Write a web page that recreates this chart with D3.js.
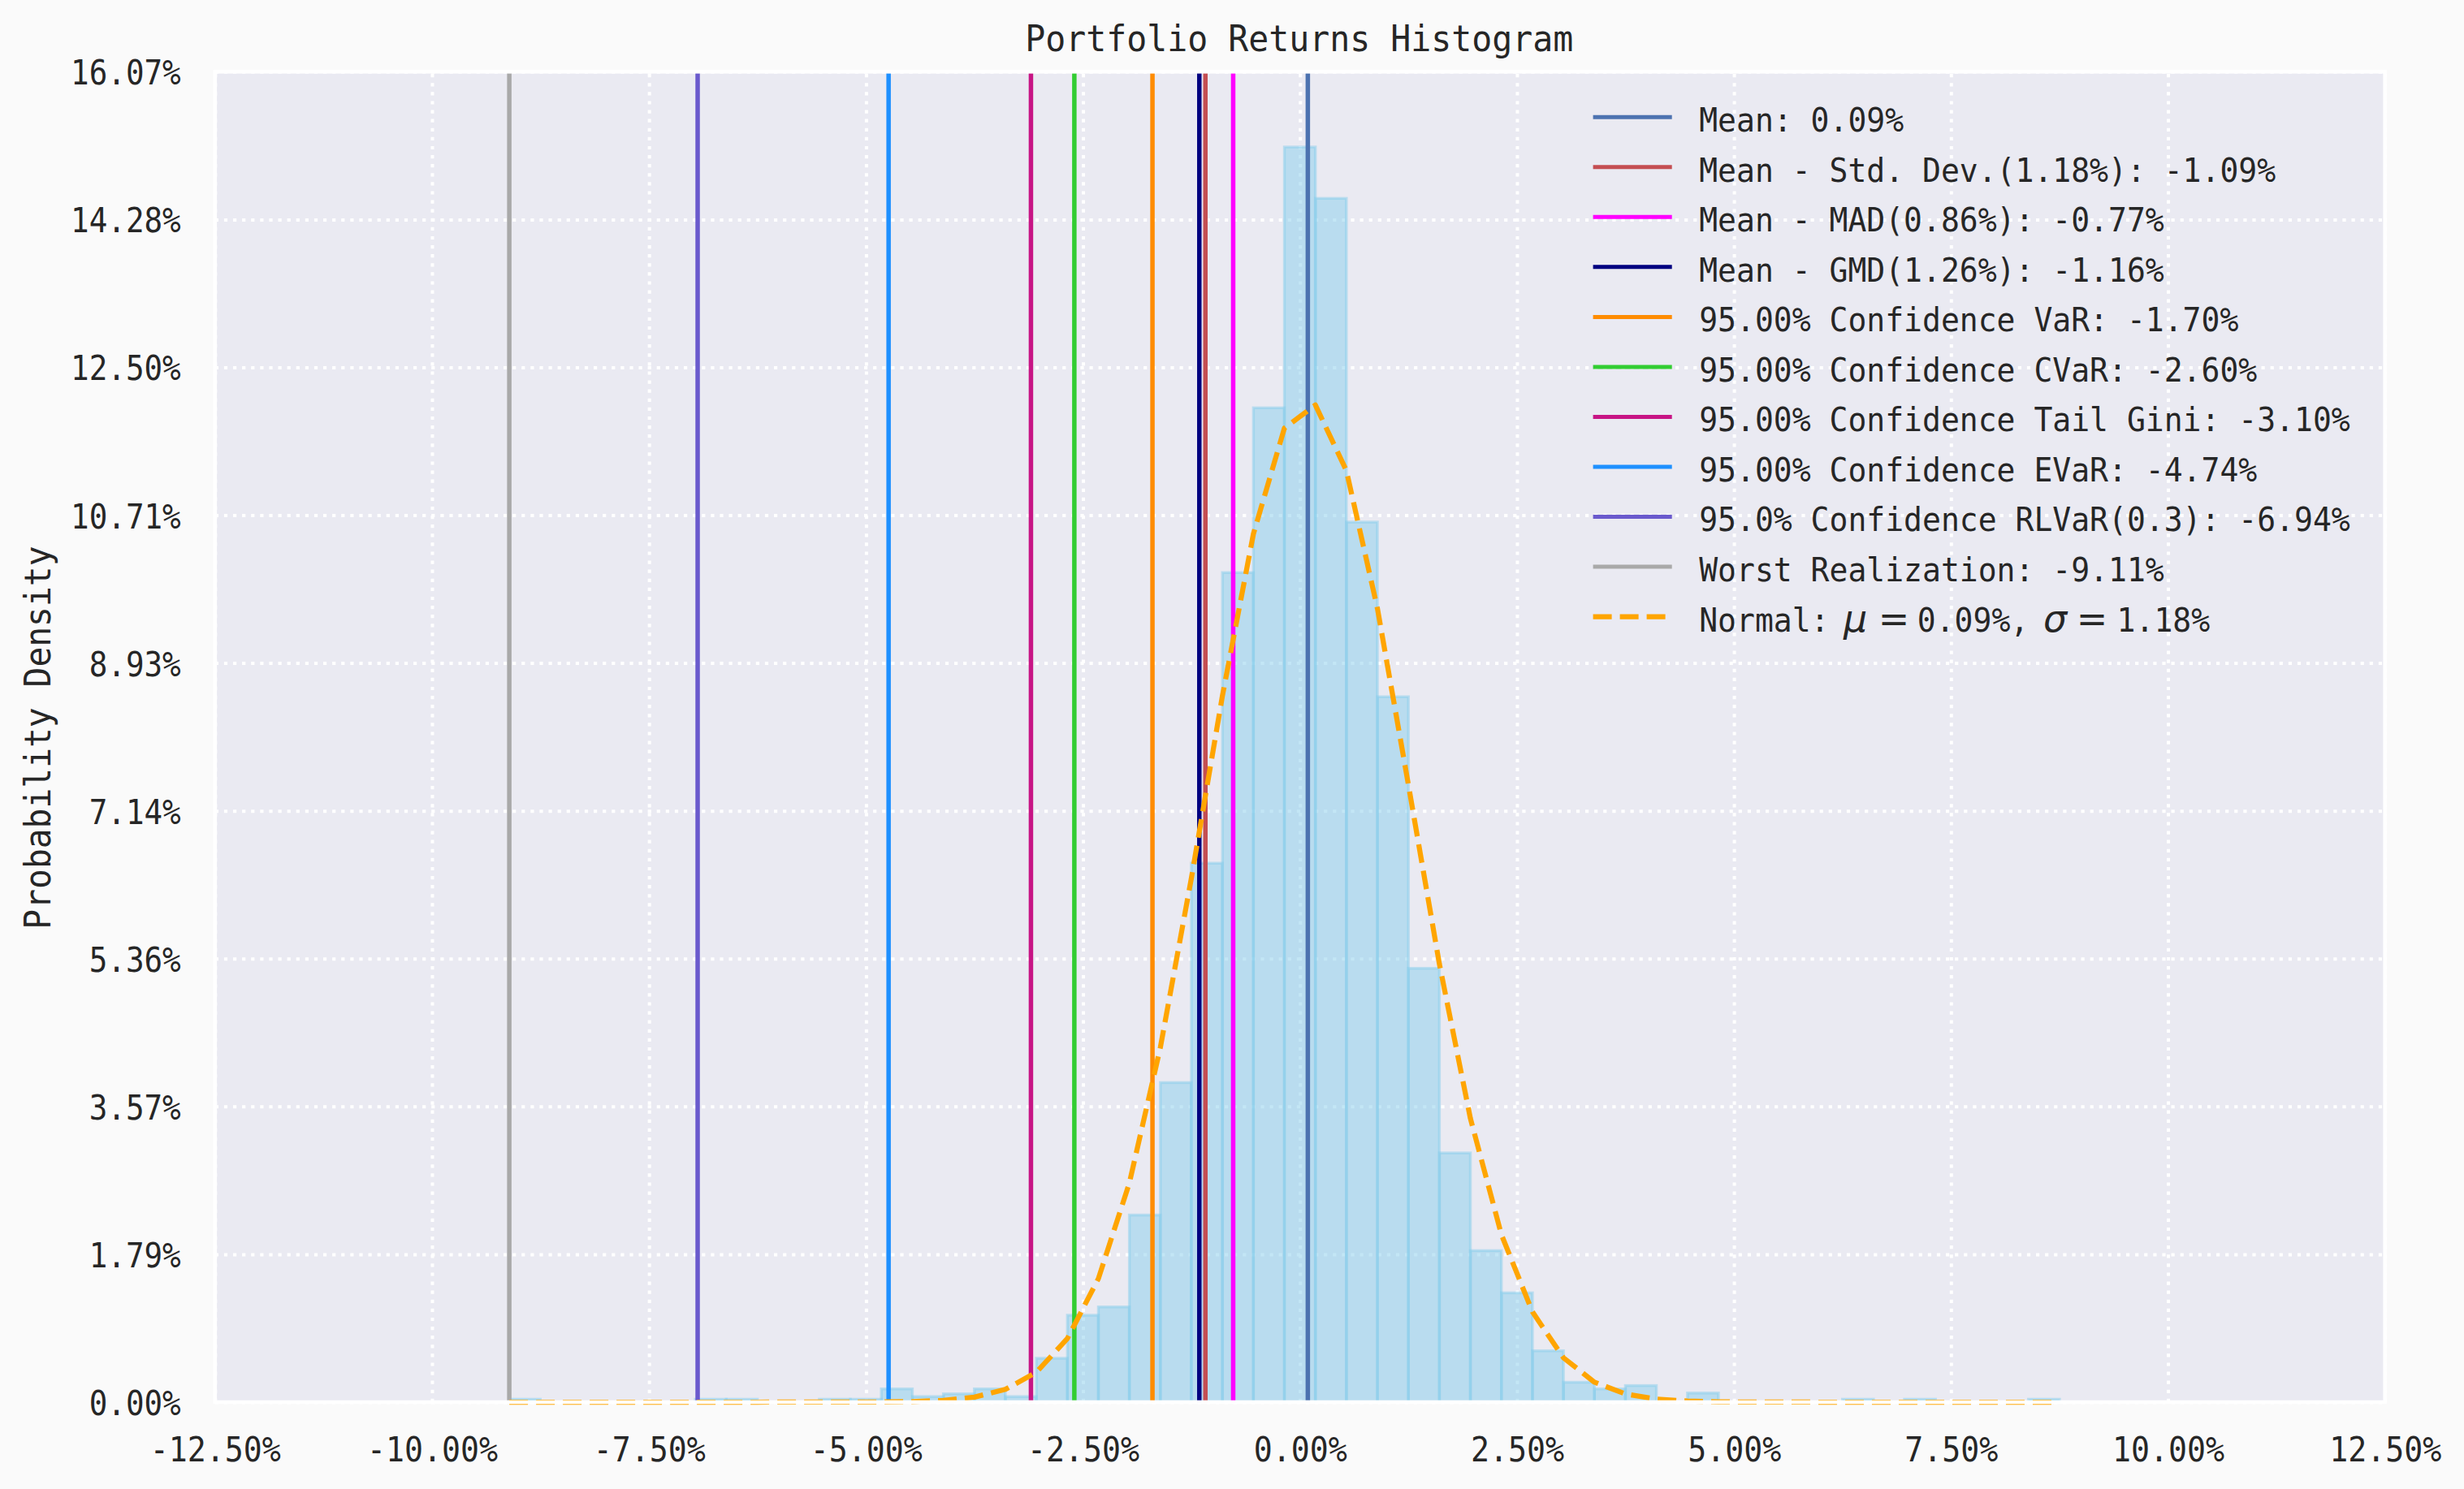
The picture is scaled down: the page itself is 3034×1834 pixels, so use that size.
<!DOCTYPE html>
<html>
<head>
<meta charset="utf-8">
<script src="https://cdn.jsdelivr.net/npm/d3@7"></script>
<style>
html, body { margin: 0; padding: 0; background: #FAFAFA; }
svg { display: block; }
</style>
</head>
<body>
<svg id="chart" width="3034" height="1834"></svg>
<script>
// ---------------- DATA (percent units) ----------------
const binEdges = [
  -9.110, -8.753, -8.396, -8.038, -7.681, -7.324, -6.967, -6.610, -6.252, -5.895,
  -5.538, -5.181, -4.824, -4.466, -4.109, -3.752, -3.395, -3.038, -2.680, -2.323,
  -1.966, -1.609, -1.252, -0.894, -0.537, -0.180, 0.177, 0.534, 0.892, 1.249,
  1.606, 1.963, 2.320, 2.678, 3.035, 3.392, 3.749, 4.106, 4.464, 4.821,
  5.178, 5.535, 5.892, 6.250, 6.607, 6.964, 7.321, 7.678, 8.036, 8.393, 8.750
];
const binHeights = [
  0.035, 0, 0, 0, 0, 0, 0.035, 0.035, 0, 0,
  0.035, 0.035, 0.16, 0.067, 0.10, 0.16, 0.067, 0.53, 1.05, 1.15,
  2.26, 3.86, 6.51, 10.02, 12.01, 15.16, 14.54, 10.63, 8.52, 5.24,
  3.01, 1.83, 1.32, 0.62, 0.24, 0.16, 0.20, 0, 0.11, 0,
  0, 0, 0, 0.035, 0, 0.035, 0, 0, 0, 0.035
];
const normalCurve = [
  0, 0, 0, 0, 0, 0, 0, 0, 0, 0.00003,
  0.00014, 0.00056, 0.0021, 0.0070, 0.0215, 0.0603, 0.1541, 0.3599, 0.768, 1.492,
  2.647, 4.284, 6.326, 8.531, 10.487, 11.765, 12.044, 11.252, 9.586, 7.455,
  5.291, 3.427, 2.025, 1.090, 0.536, 0.241, 0.0987, 0.0369, 0.0125, 0.0039,
  0.0009, 0.0003, 0, 0, 0, 0, 0, 0, 0, 0, 0
];
const xTicks = [-12.5, -10, -7.5, -5, -2.5, 0, 2.5, 5, 7.5, 10, 12.5];
const xTickLabels = ["-12.50%", "-10.00%", "-7.50%", "-5.00%", "-2.50%", "0.00%", "2.50%", "5.00%", "7.50%", "10.00%", "12.50%"];
const yTicks = [0, 1.7856, 3.5711, 5.3567, 7.1422, 8.9278, 10.7133, 12.4989, 14.2844, 16.07];
const yTickLabels = ["0.00%", "1.79%", "3.57%", "5.36%", "7.14%", "8.93%", "10.71%", "12.50%", "14.28%", "16.07%"];
const riskValues = [0.09, -1.09, -0.77, -1.16, -1.70, -2.60, -3.10, -4.74, -6.94, -9.11];
const riskLabels = [
  "Mean: 0.09%",
  "Mean - Std. Dev.(1.18%): -1.09%",
  "Mean - MAD(0.86%): -0.77%",
  "Mean - GMD(1.26%): -1.16%",
  "95.00% Confidence VaR: -1.70%",
  "95.00% Confidence CVaR: -2.60%",
  "95.00% Confidence Tail Gini: -3.10%",
  "95.00% Confidence EVaR: -4.74%",
  "95.0% Confidence RLVaR(0.3): -6.94%",
  "Worst Realization: -9.11%"
];
const riskColors = ["#4C72B0", "#C44E52", "#FF00FF", "#000080", "#FF8C00", "#32CD32", "#C71585", "#1E90FF", "#6A5ACD", "#A9A9A9"];
const normalLabelParts = ["Normal:", "μ", "=", "0.09%,", "σ", "=", "1.18%"];

// ---------------- LAYOUT ----------------
const L = 264.8, R = 2936.7, T = 88.3, B = 1727;
const MONO = "'DejaVu Sans Mono', 'Liberation Mono', monospace";
const TXT = "#262626";

const svg = d3.select("#chart");
const x = d3.scaleLinear().domain([-12.5, 12.5]).range([L, R]);
const y = d3.scaleLinear().domain([0, 16.07]).range([B, T]);

function monoText(g, str, xStart, yBase, size, charW) {
  return g.append("text")
    .attr("x", xStart).attr("y", yBase)
    .attr("font-family", MONO).attr("font-size", size)
    .attr("fill", TXT)
    .attr("textLength", str.length * charW)
    .attr("lengthAdjust", "spacingAndGlyphs")
    .text(str);
}

// plot background
svg.append("rect").attr("x", L).attr("y", T).attr("width", R - L).attr("height", B - T).attr("fill", "#EAEAF2");

// grid via axes
const gridX = svg.append("g").attr("transform", `translate(0,${B})`)
  .call(d3.axisBottom(x).tickValues(xTicks).tickSize(-(B - T)).tickFormat(""));
const gridY = svg.append("g").attr("transform", `translate(${L},0)`)
  .call(d3.axisLeft(y).tickValues(yTicks).tickSize(-(R - L)).tickFormat(""));
[gridX, gridY].forEach(g => {
  g.select(".domain").remove();
  g.selectAll(".tick line").attr("stroke", "#FFFFFF").attr("stroke-width", 4)
    .attr("stroke-dasharray", "4.2,6.9");
});

// histogram bars
const bins = binHeights.map((h, i) => ({ x0: binEdges[i], x1: binEdges[i + 1], h }));
svg.append("g").selectAll("rect").data(bins.filter(d => d.h > 0)).join("rect")
  .attr("x", d => x(d.x0)).attr("width", d => x(d.x1) - x(d.x0))
  .attr("y", d => y(d.h)).attr("height", d => y(0) - y(d.h))
  .attr("fill", "#87CEEB").attr("fill-opacity", 0.5)
  .attr("stroke", "#87CEEB").attr("stroke-opacity", 0.5).attr("stroke-width", 3.4);

// vertical risk lines
svg.append("g").selectAll("line").data(riskValues).join("line")
  .attr("x1", d => x(d)).attr("x2", d => x(d))
  .attr("y1", T).attr("y2", B)
  .attr("stroke", (d, i) => riskColors[i]).attr("stroke-width", 5.5);

// normal curve
const pts = binEdges.map((e, i) => [e, normalCurve[i]]);
svg.append("path").datum(pts)
  .attr("d", d3.line().x(d => x(d[0])).y(d => y(d[1])))
  .attr("fill", "none").attr("stroke", "#FFA500").attr("stroke-width", 6.25)
  .attr("stroke-dasharray", "23,10").attr("stroke-linejoin", "round");

// frame (white spines)
svg.append("rect").attr("x", L).attr("y", T).attr("width", R - L).attr("height", B - T)
  .attr("fill", "none").attr("stroke", "#FFFFFF").attr("stroke-width", 4.6);

// x axis labels
const xAxis = svg.append("g").attr("transform", `translate(0,${B})`)
  .call(d3.axisBottom(x).tickValues(xTicks).tickSize(0).tickFormat((d, i) => xTickLabels[i]));
xAxis.select(".domain").remove();
xAxis.selectAll(".tick text")
  .attr("font-family", MONO).attr("font-size", 42.5).attr("fill", TXT)
  .attr("dy", null).attr("y", 73)
  .attr("text-anchor", "start")
  .attr("x", (d, i) => -xTickLabels[i].length * 23 / 2)
  .attr("textLength", (d, i) => xTickLabels[i].length * 23)
  .attr("lengthAdjust", "spacingAndGlyphs");

// y axis labels
const yAxis = svg.append("g").attr("transform", `translate(${L},0)`)
  .call(d3.axisLeft(y).tickValues(yTicks).tickSize(0).tickFormat((d, i) => yTickLabels[i]));
yAxis.select(".domain").remove();
yAxis.selectAll(".tick text")
  .attr("font-family", MONO).attr("font-size", 42.5).attr("fill", TXT)
  .attr("dy", null).attr("y", 15.5)
  .attr("text-anchor", "start")
  .attr("x", (d, i) => (222.7 - L) - yTickLabels[i].length * 22.6)
  .attr("textLength", (d, i) => yTickLabels[i].length * 22.6)
  .attr("lengthAdjust", "spacingAndGlyphs");

// title
const title = "Portfolio Returns Histogram";
monoText(svg, title, 1599.7 - title.length * 25 / 2, 62.7, 45, 25);

// y label
const ylab = "Probability Density";
const yl = svg.append("g").attr("transform", `translate(61.7,${908.6}) rotate(-90)`);
monoText(yl, ylab, -ylab.length * 24.85 / 2, 0, 45, 24.85);

// legend
const leg = svg.append("g");
const rowY = i => 144.3 + 61.52 * i;
riskLabels.forEach((lab, i) => {
  leg.append("line").attr("x1", 1961.6).attr("x2", 2058.7)
    .attr("y1", rowY(i)).attr("y2", rowY(i))
    .attr("stroke", riskColors[i]).attr("stroke-width", 5);
  monoText(leg, lab, 2092.2, rowY(i) + 18, 41, 22.9);
});
const nI = riskLabels.length;
const ny = rowY(nI);
leg.append("line").attr("x1", 1961.6).attr("x2", 2058.7)
  .attr("y1", ny).attr("y2", ny)
  .attr("stroke", "#FFA500").attr("stroke-width", 6.25).attr("stroke-dasharray", "23,10");
monoText(leg, normalLabelParts[0], 2092.2, ny + 18, 41, 22.9);
leg.append("text").attr("x", 2270).attr("y", ny + 18)
  .attr("font-family", "'DejaVu Sans', sans-serif").attr("font-style", "italic")
  .attr("font-size", 46).attr("fill", TXT).text(normalLabelParts[1]);
leg.append("text").attr("x", 2332).attr("y", ny + 18).attr("text-anchor", "middle")
  .attr("font-family", "'DejaVu Sans', sans-serif")
  .attr("font-size", 46).attr("fill", TXT).text(normalLabelParts[2]);
monoText(leg, normalLabelParts[3], 2360.8, ny + 18, 41, 22.9);
leg.append("text").attr("x", 2516).attr("y", ny + 18)
  .attr("font-family", "'DejaVu Sans', sans-serif").attr("font-style", "italic")
  .attr("font-size", 46).attr("fill", TXT).text(normalLabelParts[4]);
leg.append("text").attr("x", 2576).attr("y", ny + 18).attr("text-anchor", "middle")
  .attr("font-family", "'DejaVu Sans', sans-serif")
  .attr("font-size", 46).attr("fill", TXT).text(normalLabelParts[5]);
monoText(leg, normalLabelParts[6], 2606.6, ny + 18, 41, 22.9);
</script>
</body>
</html>
